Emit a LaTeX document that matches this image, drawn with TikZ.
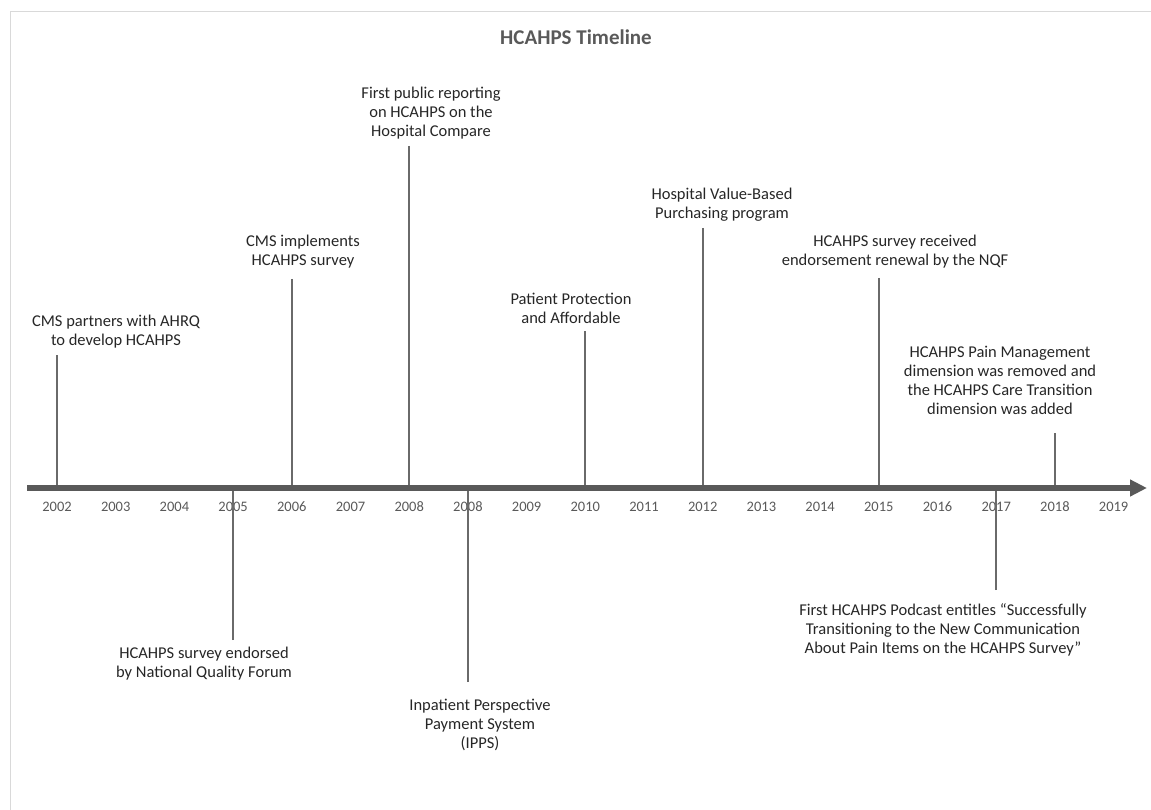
\documentclass[tikz,border=0pt]{standalone}
\usepackage{fontspec}
\setmainfont{Carlito}
\usetikzlibrary{arrows.meta}

\definecolor{axisgray}{HTML}{595959}
\definecolor{tickgray}{HTML}{6A6A6A}
\definecolor{framegray}{HTML}{D9D9D9}

\begin{document}
\begin{tikzpicture}[x=1pt,y=-1pt,
axis/.style={line width=5.5pt,draw=axisgray,-{Triangle[length=17pt,width=16pt]}},
tick/.style={line width=1.8pt,draw=tickgray},
year/.style={font=\fontsize{14.5}{17}\selectfont,text=axisgray,inner sep=0pt},
event/.style={align=center,font=\fontsize{16.5}{19}\selectfont,text=black!85,inner sep=0pt}]
\useasboundingbox (0,0) rectangle (1151,810);
% chart area, open to the right and below
\draw[framegray,line width=1pt] (10.5,810) -- (10.5,11.5) -- (1151,11.5);
\node[font=\fontsize{21}{25}\selectfont\bfseries,text=axisgray] (title) at (576,37) {HCAHPS Timeline};

% years under the axis
\foreach \yr [count=\i from 0] in {2002,2003,2004,2005,2006,2007,2008,2008,2009,2010,2011,2012,2013,2014,2015,2016,2017,2018,2019}
  \node[year] (y\i) at ({57+58.7*\i},507) {\yr};
\coordinate (a0) at (27,488);
\coordinate (a1) at (1147,488);

% event labels
\node[event] (e0) at (116,332) {CMS partners with AHRQ\\to develop HCAHPS};
\node[event] (e3) at (204,664) {HCAHPS survey endorsed\\by National Quality Forum};
\node[event] (e4) at (303,252) {CMS implements\\HCAHPS survey};
\node[event] (e6) at (431,113) {First public reporting\\on HCAHPS on the\\Hospital Compare};
\node[event] (e7) at (480,725) {Inpatient Perspective\\Payment System\\(IPPS)};
\node[event] (e9) at (571,308) {Patient Protection\\and Affordable};
\node[event] (e11) at (722,205) {Hospital Value-Based\\Purchasing program};
\node[event] (e14) at (895,252) {HCAHPS survey received\\endorsement renewal by the NQF};
\node[event] (e17) at (1000,380) {HCAHPS Pain Management\\dimension was removed and\\the HCAHPS Care Transition\\dimension was added};
\node[event] (e16) at (943,630) {First HCAHPS Podcast entitles “Successfully\\Transitioning to the New Communication\\About Pain Items on the HCAHPS Survey”};

% ticks from the axis
\foreach \i/\e in {0/355,4/279,6/146,9/331,11/228,14/278,17/433,3/640,7/682,16/590}
  {\coordinate (k\i) at (y\i |- 0,\e);
   \draw[tick] (k\i) -- (k\i |- a0);}
\draw[axis] (a0) -- (a1);
\end{tikzpicture}
\end{document}
